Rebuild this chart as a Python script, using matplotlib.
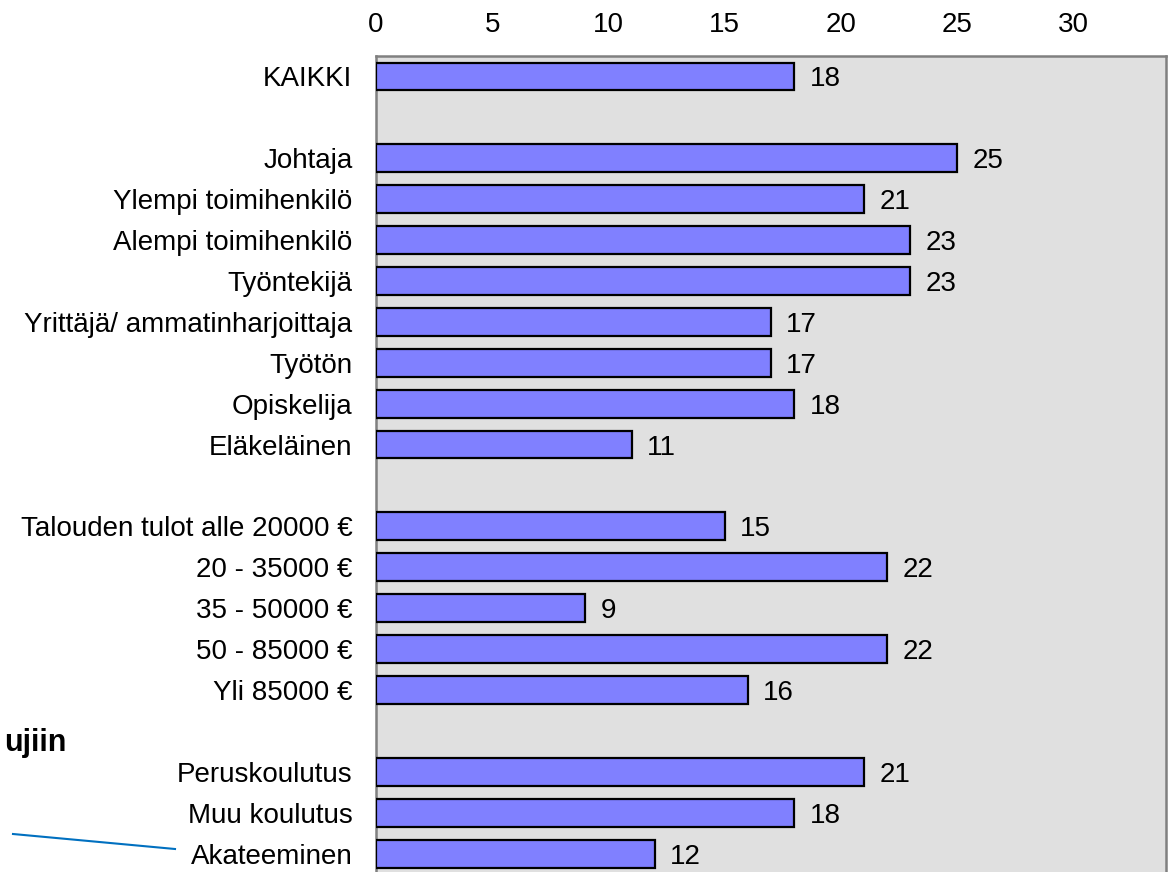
import matplotlib
matplotlib.use("Agg")
import matplotlib.pyplot as plt
import numpy as np

plt.rcParams["font.family"] = ["Liberation Sans", "DejaVu Sans"]

# rows top to bottom; None marks an empty spacer row
categories = [
    "KAIKKI", None,
    "Johtaja", "Ylempi toimihenkilö", "Alempi toimihenkilö", "Työntekijä",
    "Yrittäjä/ ammatinharjoittaja", "Työtön", "Opiskelija", "Eläkeläinen", None,
    "Talouden tulot alle 20000 €", "20 - 35000 €", "35 - 50000 €", "50 - 85000 €",
    "Yli 85000 €", None,
    "Peruskoulutus", "Muu koulutus", "Akateeminen",
]
values = [
    18, None,
    25, 21, 23, 23, 17, 17, 18, 11, None,
    15, 22, 9, 22, 16, None,
    21, 18, 12,
]
x_ticks = [0, 5, 10, 15, 20, 25, 30]

fig = plt.figure(figsize=(11.71, 8.72), dpi=100)
ax = fig.add_axes([376 / 1171, 0.0, 790 / 1171, 1 - 56 / 872])

pos = [i for i, v in enumerate(values) if v is not None]
vals = [values[i] for i in pos]
labels = [categories[i] for i in pos]

ax.barh(pos, vals, height=0.68, color="#8080FF", edgecolor="black", linewidth=1.6, zorder=3)
for p, v in zip(pos, vals):
    ax.annotate(str(v), (v, p), xytext=(11, 0), textcoords="offset points",
                va="center_baseline", ha="left", fontsize=20)

ax.set_facecolor("#E0E0E0")
ax.set_xlim(0, 34)
ax.set_ylim(19.45, -0.5)
ax.set_yticks(pos)
ax.set_yticklabels(labels, fontsize=20)
ax.set_xticks(x_ticks)
ax.xaxis.tick_top()
ax.tick_params(axis="x", length=0, pad=13, labelsize=20)
ax.tick_params(axis="y", length=0, pad=17)
for side in ["top", "left", "right"]:
    ax.spines[side].set_color("#808080")
    ax.spines[side].set_linewidth(1.8)
ax.spines["bottom"].set_visible(False)

# leftovers of the slide behind the chart
fig.text(66 / 1171, 1 - 743 / 872, "ujiin", ha="right", va="center",
         fontsize=22, fontweight="bold")
fig.add_artist(plt.Line2D([13 / 1171, 175 / 1171], [1 - 834 / 872, 1 - 849 / 872],
                          color="#0070C0", linewidth=1.5))

fig.savefig("out.png", dpi=100)
